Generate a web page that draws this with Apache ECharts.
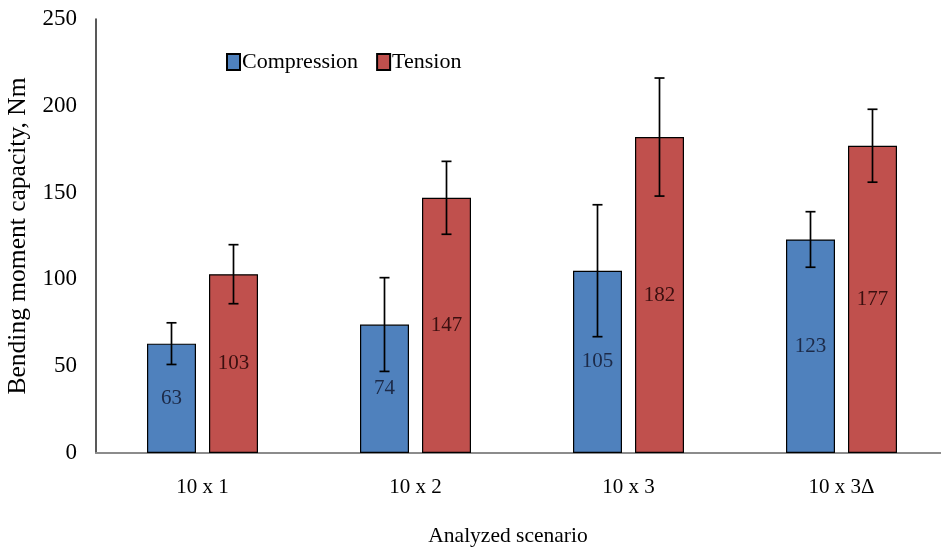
<!DOCTYPE html>
<html><head><meta charset="utf-8">
<script src="https://cdn.jsdelivr.net/npm/echarts@6/dist/echarts.min.js"></script>
<style>html,body{margin:0;padding:0;background:#fff}#c{width:941px;height:548px}</style>
</head><body><div id="c"></div>
<script>
const categories = ['10 x 1', '10 x 2', '10 x 3', '10 x 3\u0394'];
const compression = [63, 74, 105, 123];
const tension = [103, 147, 182, 177];
const compressionErr = [12, 27, 38, 16];
const tensionErr = [17, 21, 34, 21];
const yTicks = [0, 50, 100, 150, 200, 250];

const FONT = 'Liberation Serif';
const BAR_W = 49, GAP = 13;
const chart = echarts.init(document.getElementById('c'));

function errSeries(name, vals, errs, sign) {
  return {
    type: 'custom', name: name + ' err', silent: true, z: 10,
    data: vals.map((v, i) => [i, v - errs[i], v + errs[i]]),
    renderItem: function (params, api) {
      const i = api.value(0);
      const lo = api.coord([i, api.value(1)]);
      const hi = api.coord([i, api.value(2)]);
      const x = lo[0] + sign * (BAR_W + GAP) / 2;
      const cap = 5;
      const st = { stroke: '#000', lineWidth: 1.7 };
      return { type: 'group', children: [
        { type: 'line', shape: { x1: x, y1: lo[1], x2: x, y2: hi[1] }, style: st },
        { type: 'line', shape: { x1: x - cap, y1: lo[1], x2: x + cap, y2: lo[1] }, style: st },
        { type: 'line', shape: { x1: x - cap, y1: hi[1], x2: x + cap, y2: hi[1] }, style: st }
      ]};
    }
  };
}

chart.setOption({
  animation: false,
  textStyle: { fontFamily: FONT },
  legend: {
    data: ['Compression', 'Tension'],
    left: 221, top: 46,
    itemWidth: 13, itemHeight: 16, itemGap: 18,
    textStyle: { fontFamily: FONT, fontSize: 22, color: '#000', padding: [0, 0, 0, -3] },
    icon: 'rect'
  },
  grid: { left: 96, top: 19, width: 852, height: 434, outerBoundsMode: 'none', containLabel: false },
  xAxis: {
    type: 'category', data: categories,
    axisLine: { lineStyle: { color: '#8c8c8c', width: 2 } },
    axisTick: { show: false },
    axisLabel: { fontFamily: FONT, fontSize: 21, color: '#000', margin: 24 },
    name: 'Analyzed scenario', nameLocation: 'middle', nameGap: 72,
    nameTextStyle: { fontFamily: FONT, fontSize: 21.5, color: '#000', padding: [0, 0, 0, -28] }
  },
  yAxis: {
    type: 'value', min: 0, max: 250, interval: 50,
    axisLine: { show: true, lineStyle: { color: '#222', width: 1.5 } },
    axisTick: { show: false },
    splitLine: { show: false },
    axisLabel: { fontFamily: FONT, fontSize: 23, color: '#000', margin: 19,
      formatter: v => yTicks.includes(v) ? String(v) : '' },
    name: 'Bending moment capacity, Nm', nameLocation: 'middle', nameGap: 62,
    nameTextStyle: { fontFamily: FONT, fontSize: 25.5, color: '#000' }
  },
  series: [
    { name: 'Compression', type: 'bar', data: compression, barWidth: BAR_W,
      barGap: (GAP / BAR_W * 100) + '%',
      itemStyle: { color: '#4f81bd', borderColor: '#000', borderWidth: 1.2 },
      label: { show: true, position: 'inside', fontFamily: FONT, fontSize: 21, color: '#1c2a48' } },
    { name: 'Tension', type: 'bar', data: tension, barWidth: BAR_W,
      itemStyle: { color: '#c0504d', borderColor: '#000', borderWidth: 1.2 },
      label: { show: true, position: 'inside', fontFamily: FONT, fontSize: 21, color: '#3a0f0f' } },
    errSeries('Compression', compression, compressionErr, -1),
    errSeries('Tension', tension, tensionErr, 1)
  ]
});
</script></body></html>
